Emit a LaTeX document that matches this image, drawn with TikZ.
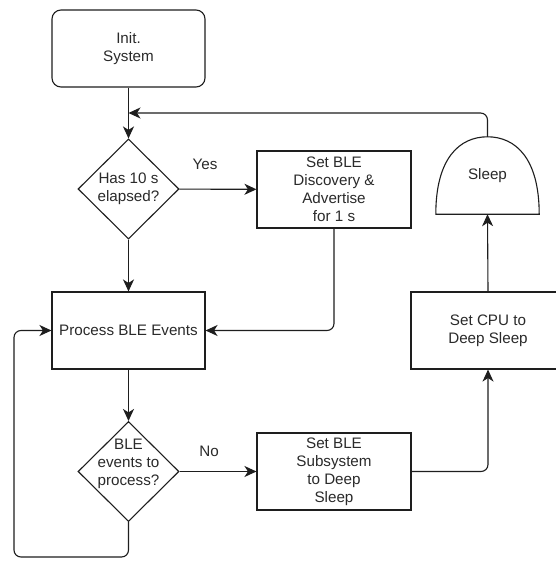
\documentclass[tikz,border=0pt]{standalone}
\usepackage{fontspec}
\setmainfont{Liberation Sans}
\usetikzlibrary{shapes.geometric,arrows.meta}
\definecolor{ink}{HTML}{1E1E1E}
\definecolor{txt}{HTML}{2A2A2A}
\begin{document}
\begin{tikzpicture}[x=1pt,y=-1pt,
  every node/.style={font=\fontsize{15.2}{18}\selectfont, text=txt},
  shapeline/.style={draw=ink, line width=1.1pt},
  stepbox/.style={shapeline, rectangle, minimum width=153pt, minimum height=77pt, align=center, inner sep=0pt},
  startbox/.style={stepbox, rounded corners=9pt},
  decision/.style={shapeline, diamond, minimum width=101pt, minimum height=100pt, inner sep=0pt},
  arr/.style={draw=ink, line width=1.1pt, -{Stealth[length=12pt,width=11pt,inset=3.5pt]}},
  elbow/.style={rounded corners=7pt},
  lbl/.style={inner sep=0pt}
]
\useasboundingbox (0,0) rectangle (555,561);
\fill[white] (0,0) rectangle (555,561);

% process steps
\node[startbox] (init) at (128.5,48.5) {Init.\\System};
\node[decision, label={[align=center]center:Has 10 s\\elapsed?}] (d1) at (128.5,189) {};
\node[stepbox, minimum width=154pt] (disc) at (334,189.5) {Set BLE\\Discovery \&\\Advertise\\for 1 s};
\node[stepbox] (proc) at (128.5,330.5) {Process BLE Events};
\node[decision, label={[align=center, yshift=8pt]center:BLE\\events to\\process?}] (d2) at (128.5,471.5) {};
\node[stepbox, minimum width=154pt] (sub) at (334,471.5) {Set BLE\\Subsystem\\to Deep\\Sleep};
\node[stepbox, minimum width=154pt] (cpu) at (488,330.5) {Set CPU to\\Deep Sleep};

% sleep state drawn as a dome with a flat base
\node[rectangle, minimum width=103pt, minimum height=77pt, inner sep=0pt] (sleep) at (487.5,175.5) {Sleep};
\draw[shapeline] (sleep.south west) .. controls +(0,-56) and +(-28,0) .. (sleep.north)
  .. controls +(28,0) and +(0,-56) .. (sleep.south east) -- cycle;

% branch labels
\node[lbl] (yes) at (205,164) {Yes};
\node[lbl] (no) at (209,451) {No};

% helper points for the loop-backs
\coordinate (join) at (128.5,113);
\coordinate (loopcorner) at (14,557);

% straight connectors
\draw[arr] (init) -- (d1);
\draw[arr] (d1) -- (disc);
\draw[arr] (d1) -- (proc);
\draw[arr] (proc) -- (d2);
\draw[arr] (d2) -- (sub);
\draw[arr] (cpu.north) -- (sleep.south);

% connectors with rounded bends
\draw[arr, elbow] (sleep.north) |- (join);
\draw[arr, elbow] (disc.south) |- (proc.east);
\draw[arr, elbow] (d2.south) |- (loopcorner) |- (proc.west);
\draw[arr, elbow] (sub.east) -| (cpu.south);
\end{tikzpicture}
\end{document}
